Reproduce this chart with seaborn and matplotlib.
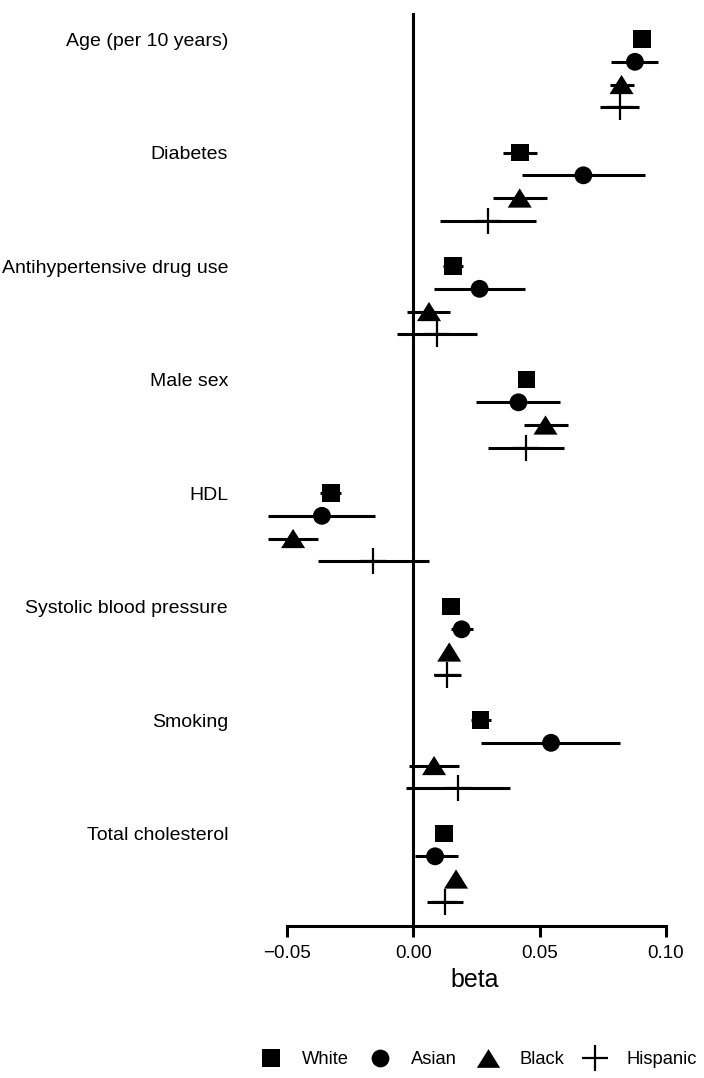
import numpy as np
import pandas as pd
import matplotlib
matplotlib.use("Agg")
import matplotlib.pyplot as plt
import seaborn as sbn
from matplotlib.path import Path
from matplotlib.lines import Line2D

sbn.set_style("white")
plt.rcParams["font.family"] = ["Liberation Sans", "DejaVu Sans"]
plt.rcParams["text.color"] = "black"
plt.rcParams["axes.labelcolor"] = "black"
plt.rcParams["xtick.color"] = "black"
plt.rcParams["ytick.color"] = "black"

# Data

variables = ["Age (per 10 years)", "Diabetes", "Antihypertensive drug use", "Male sex",
             "HDL", "Systolic blood pressure", "Smoking", "Total cholesterol"]
groups = ["White", "Asian", "Black", "Hispanic"]

beta_white = [0.0906, 0.0423, 0.0158, 0.0448, -0.0326, 0.0148, 0.0266, 0.0121]
lo_white = [0.0886, 0.0356, 0.0119, 0.0428, -0.0369, 0.0128, 0.0227, 0.0101]
hi_white = [0.0926, 0.0491, 0.0198, 0.0468, -0.0287, 0.0168, 0.0307, 0.0141]

beta_asian = [0.0877, 0.0673, 0.0262, 0.0416, -0.0362, 0.0191, 0.0545, 0.0086]
lo_asian = [0.0781, 0.0431, 0.0082, 0.0249, -0.0575, 0.0150, 0.0269, 0.0007]
hi_asian = [0.0968, 0.0918, 0.0440, 0.0582, -0.0150, 0.0235, 0.0819, 0.0175]

beta_black = [0.0824, 0.0421, 0.0062, 0.0523, -0.0476, 0.0142, 0.0082, 0.0169]
lo_black = [0.0777, 0.0316, -0.0024, 0.0437, -0.0575, 0.0122, -0.0016, 0.0149]
hi_black = [0.0873, 0.0529, 0.0146, 0.0612, -0.0378, 0.0162, 0.0179, 0.0189]

beta_hisp = [0.0816, 0.0296, 0.0095, 0.0445, -0.0158, 0.0134, 0.0177, 0.0126]
lo_hisp = [0.0737, 0.0107, -0.0066, 0.0294, -0.0378, 0.0082, -0.0029, 0.0053]
hi_hisp = [0.0895, 0.0486, 0.0252, 0.0595, 0.0063, 0.0187, 0.0382, 0.0198]

xticks = [-0.05, 0.0, 0.05, 0.10]
xticklabels = ["\u22120.05", "0.00", "0.05", "0.10"]

#Building long table

rows = []
allbeta = [beta_white, beta_asian, beta_black, beta_hisp]
alllo = [lo_white, lo_asian, lo_black, lo_hisp]
allhi = [hi_white, hi_asian, hi_black, hi_hisp]
for j, g in enumerate(groups):
    for i, v in enumerate(variables):
        rows.append({"Variable": v, "Group": g, "beta": allbeta[j][i],
                     "lo": alllo[j][i], "hi": allhi[j][i], "pos": i * 5 + j})
forest = pd.DataFrame(rows)

tri = Path([(-1, -0.8), (1, -0.8), (0, 0.8), (-1, -0.8)],
           [Path.MOVETO, Path.LINETO, Path.LINETO, Path.CLOSEPOLY])
markers = {"White": "s", "Asian": "o", "Black": tri, "Hispanic": "+"}
sizes = {"White": 160, "Asian": 165, "Black": 300, "Hispanic": 350}

fig = plt.figure(figsize=(7.04, 10.78), dpi=100)
ax = fig.add_axes([260 / 704, 152 / 1078, 430 / 704, 913 / 1078])

ax.axvline(0, color="black", lw=2.2, zorder=1)
ax.hlines(forest["pos"], forest["lo"], forest["hi"], color="black", lw=2.2, zorder=2)

for g in groups:
    sub = forest[forest["Group"] == g]
    if g == "Hispanic":
        sbn.scatterplot(data=sub, x="beta", y="pos", marker="+", s=sizes[g],
                        color="black", linewidth=1.6, legend=False, ax=ax, zorder=3)
    else:
        sbn.scatterplot(data=sub, x="beta", y="pos", marker=markers[g], s=sizes[g],
                        color="black", edgecolor="none", linewidth=0, legend=False,
                        ax=ax, zorder=3)

ax.set_xlim(-0.0607, 0.1095)
ax.set_ylim(39.07, -1.15)

ax.set_yticks([i * 5 for i in range(len(variables))])
ax.set_yticklabels(variables, fontsize=14)
ax.tick_params(axis="y", length=0, pad=23, left=False)

ax.set_xticks(xticks)
ax.set_xticklabels(xticklabels, fontsize=13.5)
ax.tick_params(axis="x", bottom=True, length=8, width=2.2, pad=6, color="black")
ax.set_xlabel("beta", fontsize=18, labelpad=4)
ax.set_ylabel("")

for s in ["top", "right", "left"]:
    ax.spines[s].set_visible(False)
ax.spines["bottom"].set_bounds(-0.05, 0.10)
ax.spines["bottom"].set_linewidth(2.2)
ax.spines["bottom"].set_color("black")

handles = [
    Line2D([], [], ls="none", marker="s", ms=12.6, color="black", mew=0),
    Line2D([], [], ls="none", marker="o", ms=12.8, color="black", mew=0),
    Line2D([], [], ls="none", marker=tri, ms=16.8, color="black", mew=0),
    Line2D([], [], ls="none", marker="+", ms=19.4, color="black", mew=1.6),
]
fig.legend(handles, groups, loc="center right", bbox_to_anchor=(697 / 704, 1 - 1060 / 1078),
           ncol=4, frameon=False, fontsize=13.2, handlelength=1.0, handletextpad=1.2,
           columnspacing=1.2, borderpad=0, borderaxespad=0)

fig.savefig("out.png", dpi=100)
